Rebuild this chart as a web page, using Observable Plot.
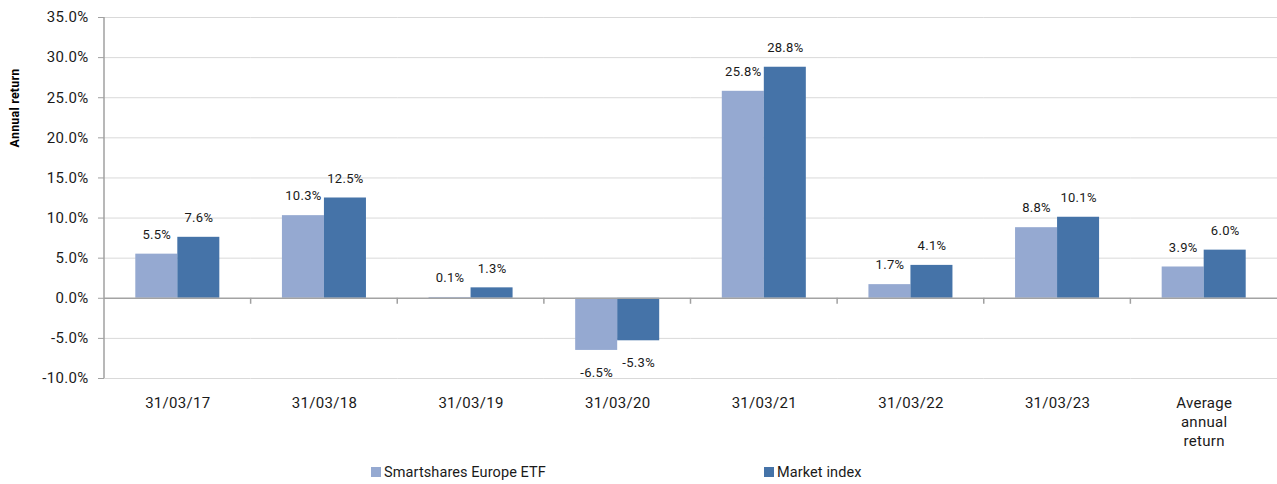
<!DOCTYPE html>
<html>
<head>
<meta charset="utf-8">
<script src="https://cdn.jsdelivr.net/npm/d3@7"></script>
<script src="https://cdn.jsdelivr.net/npm/@observablehq/plot@0.6"></script>
<style>
  html, body { margin: 0; padding: 0; background: #fff; }
  #wrap { position: relative; width: 1277px; font-family: Roboto, "Liberation Sans", sans-serif; color: #1a1a1a; }
  #chart svg text { letter-spacing: 0.3px; }
  #ytitle { position: absolute; left: 14px; top: 108px; transform: translate(-50%, -50%) rotate(-90deg);
            font: bold 12.5px Roboto, sans-serif; white-space: nowrap; color: #000; letter-spacing: 0.2px; }
  #legend { display: flex; height: 24px; align-items: center; padding-left: 371px; font-size: 14.5px; letter-spacing: 0.1px; color: #1a1a1a; }
  #legend .item { display: flex; align-items: center; width: 393px; }
  #legend .sw { width: 10px; height: 10px; margin-right: 3px; flex: none; }
</style>
</head>
<body>
<div id="wrap">
  <div id="chart"></div>
  <div id="ytitle"></div>
  <div id="legend"></div>
</div>
<script>
// ---- data ----
const categories = ["31/03/17", "31/03/18", "31/03/19", "31/03/20", "31/03/21", "31/03/22", "31/03/23", "Average\nannual\nreturn"];
const seriesNames = ["Smartshares Europe ETF", "Market index"];
const etfValues = [5.5, 10.3, 0.1, -6.5, 25.8, 1.7, 8.8, 3.9];
const indexValues = [7.6, 12.5, 1.3, -5.3, 28.8, 4.1, 10.1, 6.0];
const yTicks = [-10, -5, 0, 5, 10, 15, 20, 25, 30, 35];
const yTitle = "Annual return";
const seriesColors = ["#95a9d1", "#4573a8"];

// ---- table ----
const rows = categories.flatMap((c, i) => [
  {category: c, series: seriesNames[0], value: etfValues[i]},
  {category: c, series: seriesNames[1], value: indexValues[i]}
]);
const fmt = v => v.toFixed(1) + "%";

const plot = Plot.plot({
  width: 1277,
  height: 460,
  marginLeft: 104,
  marginRight: 0,
  marginTop: 17,
  marginBottom: 82,
  style: {fontFamily: "Roboto, sans-serif", fontSize: "15px", color: "#1a1a1a", background: "#fff", overflow: "visible"},
  fx: {domain: categories, padding: 0, round: false},
  x: {domain: seriesNames, paddingInner: 0, paddingOuter: 0.745, round: false, axis: null},
  y: {domain: [-10, 35]},
  color: {domain: seriesNames, range: seriesColors},
  marks: [
    Plot.ruleY(yTicks.filter(t => t !== 0), {stroke: "#d9d9d9", strokeWidth: 1}),
    Plot.barY(rows, {fx: "category", x: "series", y: "value", fill: "series"}),
    Plot.ruleY([0], {stroke: "#a3a3a3", strokeWidth: 1.5}),
    Plot.text(rows.filter(d => d.value >= 0), {fx: "category", x: "series", y: "value", text: d => fmt(d.value), dy: -19.5, fontSize: 13, fill: "#1a1a1a"}),
    Plot.text(rows.filter(d => d.value < 0), {fx: "category", x: "series", y: "value", text: d => fmt(d.value), dy: 22, fontSize: 13, fill: "#1a1a1a"}),
    Plot.axisY({ticks: yTicks, tickFormat: d => fmt(d), tickSize: 6, tickPadding: 10, stroke: "#a0a0a0", fill: "#1a1a1a", label: null, fontSize: 15}),
    Plot.axisFx({anchor: "bottom", tickSize: 0, tickPadding: 16, lineHeight: 1.27, label: null, fontSize: 15, fill: "#1a1a1a"})
  ]
});

document.getElementById("chart").appendChild(plot);

// axis line and category separator ticks, placed with the plot's own scales
const fxS = plot.scale("fx");
const yS = plot.scale("y");
const svg = d3.select(plot);
const g = svg.append("g").attr("stroke", "#a0a0a0").attr("stroke-width", 1.5);
const x0 = fxS.apply(categories[0]);
g.append("line").attr("x1", x0).attr("x2", x0).attr("y1", yS.apply(yTicks[yTicks.length - 1])).attr("y2", yS.apply(yTicks[0]));
categories.slice(1).forEach(c => {
  const xb = fxS.apply(c);
  g.append("line").attr("x1", xb).attr("x2", xb).attr("y1", yS.apply(0)).attr("y2", yS.apply(0) + 6);
});

document.getElementById("ytitle").textContent = yTitle;
const legend = d3.select("#legend");
seriesNames.forEach((s, i) => {
  const it = legend.append("div").attr("class", "item");
  it.append("div").attr("class", "sw").style("background", seriesColors[i]);
  it.append("span").text(s);
});
</script>
</body>
</html>
